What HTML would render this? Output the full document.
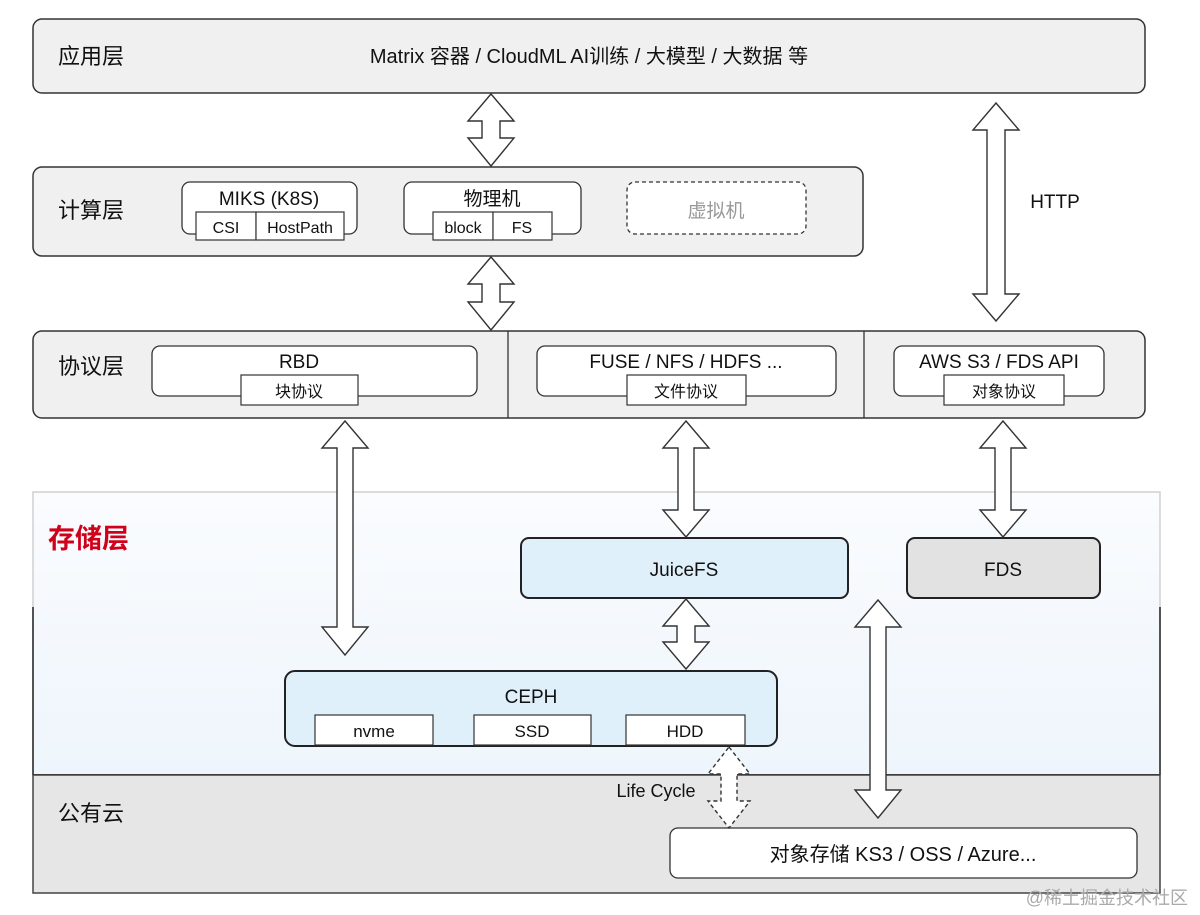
<!DOCTYPE html>
<html><head><meta charset="utf-8"><style>
html,body{margin:0;padding:0;background:#fff;width:1200px;height:915px;overflow:hidden}
text{font-family:"Liberation Sans","Noto Sans CJK SC",sans-serif;fill:#111}
</style></head><body>
<svg width="1200" height="915" viewBox="0 0 1200 915" xmlns="http://www.w3.org/2000/svg">
<defs>
<linearGradient id="sg" x1="0" y1="0" x2="0" y2="1">
<stop offset="0" stop-color="#fafcfe"/><stop offset="1" stop-color="#eef5fc"/>
</linearGradient>
</defs>
<!-- App layer -->
<rect x="33" y="19" width="1112" height="74" rx="9" fill="#f0f0f0" stroke="#333" stroke-width="1.5"/>
<text x="58" y="64" font-size="22">应用层</text>
<text x="589" y="63" font-size="20" text-anchor="middle">Matrix 容器 / CloudML AI训练  / 大模型 / 大数据 等</text>

<!-- Compute layer -->
<rect x="33" y="167" width="830" height="89" rx="9" fill="#f0f0f0" stroke="#333" stroke-width="1.5"/>
<text x="58" y="218" font-size="22">计算层</text>
<rect x="182" y="182" width="175" height="52" rx="8" fill="#fff" stroke="#333" stroke-width="1.3"/>
<text x="269" y="205" font-size="19" text-anchor="middle">MIKS (K8S)</text>
<rect x="196" y="212" width="60" height="28" fill="#fff" stroke="#333" stroke-width="1.2"/>
<rect x="256" y="212" width="88" height="28" fill="#fff" stroke="#333" stroke-width="1.2"/>
<text x="226" y="233" font-size="16" text-anchor="middle">CSI</text>
<text x="300" y="233" font-size="16" text-anchor="middle">HostPath</text>
<rect x="404" y="182" width="177" height="52" rx="8" fill="#fff" stroke="#333" stroke-width="1.3"/>
<text x="492" y="205" font-size="19" text-anchor="middle">物理机</text>
<rect x="433" y="212" width="60" height="28" fill="#fff" stroke="#333" stroke-width="1.2"/>
<rect x="493" y="212" width="59" height="28" fill="#fff" stroke="#333" stroke-width="1.2"/>
<text x="463" y="233" font-size="16" text-anchor="middle">block</text>
<text x="522" y="233" font-size="16" text-anchor="middle">FS</text>
<rect x="627" y="182" width="179" height="52" rx="8" fill="#fff" stroke="#333" stroke-width="1.3" stroke-dasharray="4,3"/>
<text x="716" y="217" font-size="19" text-anchor="middle" style="fill:#999">虚拟机</text>

<!-- Protocol layer -->
<rect x="33" y="331" width="1112" height="87" rx="9" fill="#f0f0f0" stroke="#333" stroke-width="1.5"/>
<line x1="508" y1="331" x2="508" y2="418" stroke="#333" stroke-width="1.3"/>
<line x1="864" y1="331" x2="864" y2="418" stroke="#333" stroke-width="1.3"/>
<text x="58" y="374" font-size="22">协议层</text>
<rect x="152" y="346" width="325" height="50" rx="8" fill="#fff" stroke="#333" stroke-width="1.3"/>
<text x="299" y="368" font-size="19" text-anchor="middle">RBD</text>
<rect x="241" y="375" width="117" height="30" fill="#fff" stroke="#333" stroke-width="1.2"/>
<text x="299" y="397" font-size="16" text-anchor="middle">块协议</text>
<rect x="537" y="346" width="299" height="50" rx="8" fill="#fff" stroke="#333" stroke-width="1.3"/>
<text x="686" y="368" font-size="19" text-anchor="middle">FUSE / NFS / HDFS ...</text>
<rect x="627" y="375" width="119" height="30" fill="#fff" stroke="#333" stroke-width="1.2"/>
<text x="686" y="397" font-size="16" text-anchor="middle">文件协议</text>
<rect x="894" y="346" width="210" height="50" rx="8" fill="#fff" stroke="#333" stroke-width="1.3"/>
<text x="999" y="368" font-size="19" text-anchor="middle">AWS S3 / FDS API</text>
<rect x="944" y="375" width="120" height="30" fill="#fff" stroke="#333" stroke-width="1.2"/>
<text x="1004" y="397" font-size="16" text-anchor="middle">对象协议</text>

<!-- Storage layer -->
<rect x="33" y="492" width="1127" height="283" fill="url(#sg)" stroke="#d0d0d0" stroke-width="1.5"/>
<line x1="33" y1="607" x2="33" y2="775" stroke="#222" stroke-width="1.5"/>
<line x1="1160" y1="607" x2="1160" y2="775" stroke="#222" stroke-width="1.5"/>
<line x1="33" y1="775" x2="1160" y2="775" stroke="#222" stroke-width="2"/>
<text x="48" y="548" font-size="27" font-weight="bold" style="fill:#d0021b">存储层</text>
<rect x="521" y="538" width="327" height="60" rx="8" fill="#dff0fb" stroke="#222" stroke-width="2"/>
<text x="684" y="576" font-size="19" text-anchor="middle">JuiceFS</text>
<rect x="907" y="538" width="193" height="60" rx="8" fill="#e2e2e2" stroke="#222" stroke-width="2"/>
<text x="1003" y="576" font-size="19" text-anchor="middle">FDS</text>
<rect x="285" y="671" width="492" height="75" rx="10" fill="#dff0fb" stroke="#222" stroke-width="2"/>
<text x="531" y="703" font-size="19" text-anchor="middle">CEPH</text>
<rect x="315" y="715" width="118" height="30" fill="#fff" stroke="#333" stroke-width="1.2"/>
<text x="374" y="737" font-size="17" text-anchor="middle">nvme</text>
<rect x="474" y="715" width="117" height="30" fill="#fff" stroke="#333" stroke-width="1.2"/>
<text x="532" y="737" font-size="17" text-anchor="middle">SSD</text>
<rect x="626" y="715" width="119" height="30" fill="#fff" stroke="#333" stroke-width="1.2"/>
<text x="685" y="737" font-size="17" text-anchor="middle">HDD</text>

<!-- Public cloud -->
<rect x="33" y="775" width="1127" height="118" fill="#e6e6e6" stroke="#444" stroke-width="1.5"/>
<text x="58" y="821" font-size="22">公有云</text>
<rect x="670" y="828" width="467" height="50" rx="8" fill="#fff" stroke="#333" stroke-width="1.3"/>
<text x="903" y="861" font-size="20" text-anchor="middle">对象存储 KS3 / OSS / Azure...</text>
<text x="656" y="797" font-size="18" text-anchor="middle">Life Cycle</text>

<!-- Arrows -->
<g fill="#fff" stroke="#333" stroke-width="1.4" stroke-linejoin="miter">
<path d="M491,94 L514,121 L500,121 L500,138 L514,138 L491,166 L468,138 L482,138 L482,121 L468,121 Z"/>
<path d="M491,257 L514,284 L500,284 L500,302 L514,302 L491,330 L468,302 L482,302 L482,284 L468,284 Z"/>
<path d="M996,103 L1019,130 L1005,130 L1005,294 L1019,294 L996,321 L973,294 L987,294 L987,130 L973,130 Z"/>
<path d="M345,421 L368,448 L353,448 L353,627 L368,627 L345,655 L322,627 L337,627 L337,448 L322,448 Z"/>
<path d="M686,421 L709,448 L694,448 L694,510 L709,510 L686,537 L663,510 L678,510 L678,448 L663,448 Z"/>
<path d="M1003,421 L1026,448 L1011,448 L1011,510 L1026,510 L1003,537 L980,510 L995,510 L995,448 L980,448 Z"/>
<path d="M686,599 L709,626 L695,626 L695,642 L709,642 L686,669 L663,642 L677,642 L677,626 L663,626 Z"/>
<path d="M878,600 L901,627 L886,627 L886,790 L901,790 L878,818 L855,790 L870,790 L870,627 L855,627 Z"/>
<path d="M729,747 L750,774 L737,774 L737,801 L750,801 L729,828 L708,801 L721,801 L721,774 L708,774 Z" stroke-dasharray="4,3"/>
</g>
<text x="1055" y="208" font-size="19" text-anchor="middle">HTTP</text>
<text x="1188" y="904" font-size="18" text-anchor="end" style="fill:#aaa">@稀土掘金技术社区</text>
</svg>
</body></html>
